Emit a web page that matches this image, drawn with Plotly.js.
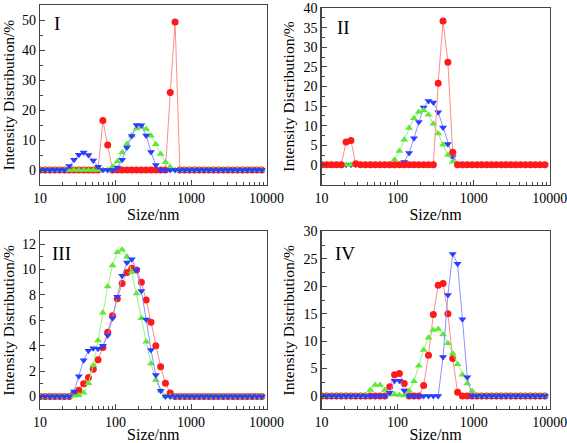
<!DOCTYPE html>
<html>
<head>
<meta charset="utf-8">
<script src="https://cdn.plot.ly/plotly-3.0.1.min.js"></script>
<style>html,body{margin:0;padding:0;background:#fff;}#chart{width:567px;height:443px;}</style>
</head>
<body>
<div id="chart"></div>
<script>
// Size classes (nm)
const sizes = [10.1,11.7,13.54,15.69,18.17,21.04,24.36,28.21,32.67,37.84,
  43.82,50.75,58.77,68.06,78.82,91.28,105.7,122.4,141.8,164.2,
  190.1,220.2,255.0,295.3,342.0,396.1,458.7,531.2,615.1,712.4,
  825.0,955.4,1106,1281,1484,1718,1990,2305,2669,3091,
  3580,4145,4801,5560,6439,7456,8635];

// Panel I
const I_red   = [0,0,0,0,0,0,0,0,0,0, 0,0,0,16.5,8.3,0,0,0,0,0, 0,0,0,0,0,0,0,25.8,49.3,0, 0,0,0,0,0,0,0,0,0,0, 0,0,0,0,0,0,0];
const I_blue  = [0,0,0,0,0,0,1.3,3.4,5.1,5.8, 5.0,3.2,1.1,0,0,0,0.8,3.4,7.5,11.3, 15.0,14.9,11.5,6.0,1.7,0,0,0,0,0, 0,0,0,0,0,0,0,0,0,0, 0,0,0,0,0,0,0];
const I_green = [0,0,0,0,0,0,0,0,0,0, 0,0,0,0,0,1.1,2.8,5.8,8.7,11.5, 13.8,14.3,13.7,11.4,8.6,5.3,2.6,1.0,0,0, 0,0,0,0,0,0,0,0,0,0, 0,0,0,0,0,0,0];

// Panel II
const II_red   = [0,0,0,0,0,5.8,6.2,0.3,0,0, 0,0,0,0,0,0,0,0,0,0, 0,0,0,0,20.8,36.7,26.2,3.2,0,0, 0,0,0,0,0,0,0,0,0,0, 0,0,0,0,0,0,0];
const II_blue  = [0,0,0,0,0,0,0,0,0,0, 0,0,0,0,0,0,0,0.7,3.0,6.8, 10.9,14.6,16.3,15.9,13.4,9.5,5.3,2.0,0,0, 0,0,0,0,0,0,0,0,0,0, 0,0,0,0,0,0,0];
const II_green = [0,0,0,0,0,0,0,0,0,0, 0,0,0,0,0,1.3,3.5,6.4,9.4,11.9, 13.5,13.9,12.8,10.5,8.0,5.1,2.5,0.8,0,0, 0,0,0,0,0,0,0,0,0,0, 0,0,0,0,0,0,0];

// Panel III
const III_red   = [0,0,0,0,0,0,0,0.26,0.5,1.0, 1.5,2.15,2.9,3.85,5.05,6.35,7.7,8.9,9.75,10.1, 9.95,9.0,7.6,5.85,4.0,2.35,1.05,0.28,0,0, 0,0,0,0,0,0,0,0,0,0, 0,0,0,0,0,0,0];
const III_blue  = [0,0,0,0,0,0,0,0.4,1.6,2.85, 3.6,3.8,3.75,4.0,4.8,6.15,7.85,9.5,10.55,10.8, 9.95,8.3,6.05,3.65,1.7,0.45,0,0,0,0, 0,0,0,0,0,0,0,0,0,0, 0,0,0,0,0,0,0];
const III_green = [0,0,0,0,0,0,0,0.05,0.1,0.3, 1.05,2.45,4.4,6.6,8.65,10.3,11.35,11.55,11.0,9.8, 8.1,6.15,4.3,2.6,1.3,0.45,0,0,0,0, 0,0,0,0,0,0,0,0,0,0, 0,0,0,0,0,0,0];

// Panel IV
const IV_red   = [0,0,0,0,0,0,0,0,0,0, 0,0,0,0,1.7,3.9,4.1,2.3,0,0, 0,1.9,7.45,14.85,20.2,20.5,15.0,6.85,0.7,0, 0,0,0,0,0,0,0,0,0,0, 0,0,0,0,0,0,0];
const IV_blue  = [0,0,0,0,0,0,0,0,0,0, 0,0,0,0,0.6,2.8,2.8,1.0,0,0, 0,0,0,0,0,7.1,18.4,25.9,24.1,14.0, 3.4,0,0,0,0,0,0,0,0,0, 0,0,0,0,0,0,0];
const IV_green = [0,0,0,0,0,0,0,0,0,0, 1.1,2.0,2.0,1.1,0.3,0.3,0.2,0.1,0.9,2.7, 5.5,8.4,10.6,12.05,12.2,11.2,9.6,7.75,5.8,3.9, 2.3,0.9,0,0,0,0,0,0,0,0, 0,0,0,0,0,0,0];

const xTickVals = [10,100,1000,10000];
const xTickText = ['10','100','1000','10000'];
const xMinorVals = [20,30,40,50,60,70,80,90,200,300,400,500,600,700,800,900,2000,3000,4000,5000,6000,7000,8000,9000];
const yTicksI = [0,10,20,30,40,50];
const yTicksII = [0,5,10,15,20,25,30,35,40];
const yTicksIII = [0,2,4,6,8,10,12];
const yTicksIV = [0,5,10,15,20,25,30];
const panelLabels = ['I','II','III','IV'];

const FONT = '"Liberation Serif", "Times New Roman", serif';
const RED = {m:'#ff1a1a', l:'#ff8c8c', sym:'circle'};
const BLUE = {m:'#2a3cff', l:'#8a94ff', sym:'triangle-down'};
const GREEN = {m:'#5fe83a', l:'#9bf07e', sym:'triangle-up'};

function tr(y, st, ax){
  return {x: sizes, y: y, type:'scatter', mode:'lines+markers',
    xaxis:'x'+ax, yaxis:'y'+ax, showlegend:false,
    line:{color:st.l, width:1},
    marker:{color:st.m, symbol:st.sym, size:7, line:{width:0}}};
}

const data = [
  tr(I_red,RED,''), tr(I_green,GREEN,''), tr(I_blue,BLUE,''),
  tr(II_blue,BLUE,'2'), tr(II_green,GREEN,'2'), tr(II_red,RED,'2'),
  tr(III_red,RED,'3'), tr(III_green,GREEN,'3'), tr(III_blue,BLUE,'3'),
  tr(IV_red,RED,'4'), tr(IV_green,GREEN,'4'), tr(IV_blue,BLUE,'4')
];

function xax(dom, anchor){
  return {domain:dom, anchor:anchor, type:'log', range:[1,4],
    tickmode:'array', tickvals:xTickVals, ticktext:xTickText,
    ticks:'inside', ticklen:5, tickwidth:1, tickcolor:'#444',
    minor:{tickmode:'array', tickvals:xMinorVals, ticks:'inside', ticklen:3, tickwidth:1, tickcolor:'#444', showgrid:false},
    showline:true, linecolor:'#444', linewidth:1.2, mirror:true,
    showgrid:false, zeroline:false, automargin:false, ticklabeloverflow:'allow',
    tickfont:{family:FONT, size:14, color:'#000'},
    title:{text:'Size/nm', font:{family:FONT, size:16, color:'#000'}, standoff:0}};
}
function yax(dom, anchor, range, tv, minorStep){
  return {domain:dom, anchor:anchor, range:range, tickmode:'array', tickvals:tv,
    ticks:'inside', ticklen:5, tickwidth:1, tickcolor:'#444',
    minor:{dtick:minorStep, tick0:0, ticks:'inside', ticklen:3, tickwidth:1, tickcolor:'#444', showgrid:false},
    showline:true, linecolor:'#444', linewidth:1.2, mirror:true,
    showgrid:false, zeroline:false, automargin:false, ticklabeloverflow:'allow',
    tickfont:{family:FONT, size:14, color:'#000'},
    title:{text:'Intensity Distribution/%', font:{family:FONT, size:15.5, color:'#000'}, standoff:5}};
}

const W = 567, H = 443;
const xL = [40/W, 266.5/W], xR = [321.5/W, 549.7/W];
const yT = [1-185/H, 1-5/H], yT2 = [1-185/H, 1-8/H], yB = [1-409.2/H, 1-231.3/H];

const layout = {
  width:W, height:H, margin:{l:0,r:0,t:0,b:0},
  paper_bgcolor:'#fff', plot_bgcolor:'#fff',
  xaxis: xax(xL,'y'), yaxis: yax(yT,'x',[-5,55],yTicksI,5),
  xaxis2: xax(xR,'y2'), yaxis2: yax(yT2,'x2',[-5.15,40.02],yTicksII,2.5),
  xaxis3: xax(xL,'y3'), yaxis3: yax(yB,'x3',[-1,13],yTicksIII,1),
  xaxis4: xax(xR,'y4'), yaxis4: yax(yB,'x4',[-2.4,30.02],yTicksIV,2.5),
  annotations: [
    {text:panelLabels[0], x:52/W, y:1-23/H},
    {text:panelLabels[1], x:335/W, y:1-28/H},
    {text:panelLabels[2], x:50/W, y:1-253/H},
    {text:panelLabels[3], x:333/W, y:1-253/H}
  ].map(a => Object.assign(a, {xref:'paper', yref:'paper', xanchor:'left', yanchor:'middle', showarrow:false,
      font:{family:FONT, size:19, color:'#000'}}))
};

Plotly.newPlot('chart', data, layout, {staticPlot:true, displayModeBar:false});
</script>
</body>
</html>
